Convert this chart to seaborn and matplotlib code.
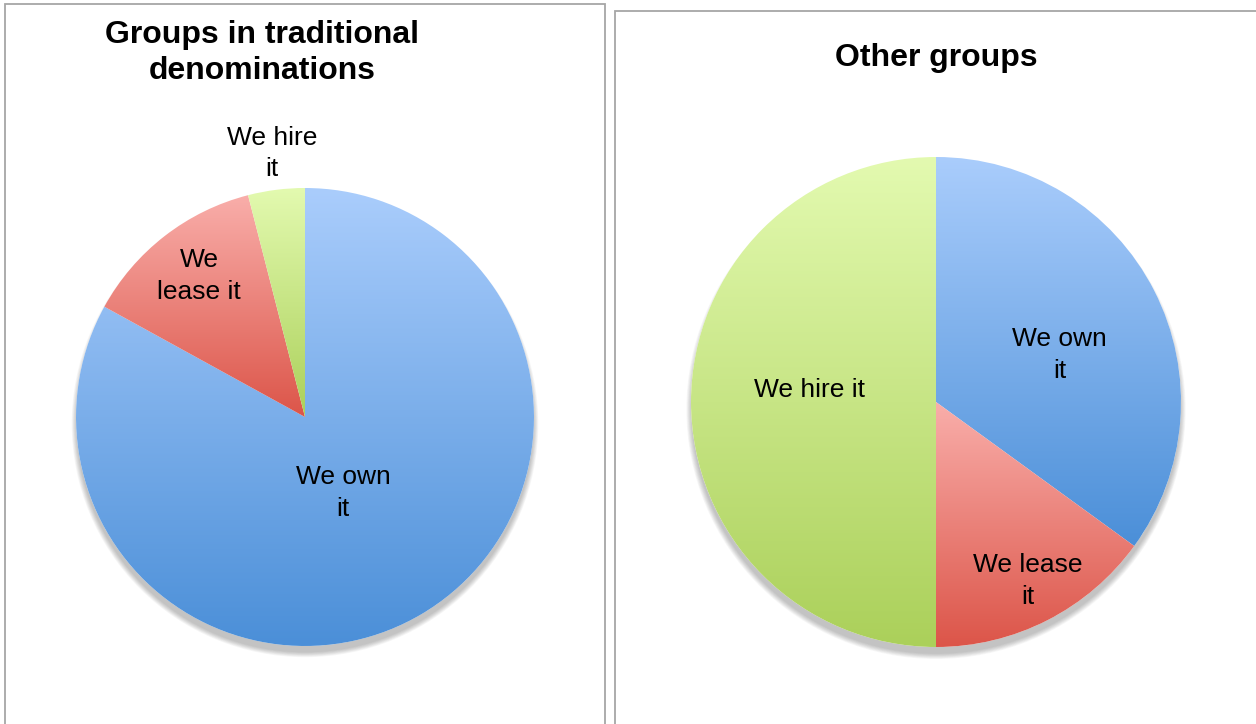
import numpy as np
import matplotlib
matplotlib.use("Agg")
import matplotlib.pyplot as plt
import seaborn as sns
from matplotlib.colors import LinearSegmentedColormap
from matplotlib.patches import Rectangle, Circle

# ---- data ----
categories = ["We own it", "We lease it", "We hire it"]
traditional_values = [83, 13, 4]
other_values = [35, 15, 50]
titles = ["Groups in traditional\ndenominations", "Other groups"]
traditional_labels = ["We own\nit", "We\nlease it", "We hire\nit"]
other_labels = ["We own\nit", "We lease\nit", "We hire it"]

# ---- style ----
sns.set_theme(style="white")
plt.rcParams["font.family"] = ["Liberation Sans", "DejaVu Sans"]

grad_colors = [("#4b8fd8", "#aacdfc"),   # blue (bottom, top)
               ("#dc5549", "#f9aeaa"),   # red
               ("#abd05a", "#e3fab0")]   # green

W, H = 1256, 724
fig = plt.figure(figsize=(W / 100, H / 100), dpi=100)
fig.patch.set_facecolor("white")

# frames
fig.patches.append(Rectangle((5 / W, -0.05), 600 / W, 1 - 4 / H + 0.05, transform=fig.transFigure,
                             fill=False, edgecolor="#a6a6a6", lw=1.3))
fig.patches.append(Rectangle((615 / W, -0.05), 660 / W, 1 - 11 / H + 0.05, transform=fig.transFigure,
                             fill=False, edgecolor="#a6a6a6", lw=1.3))

lim = 1.2
pies = [
    dict(cx=305, cy=417, r=229, values=traditional_values, labels=traditional_labels,
         label_pos=[(-63.4, 0.37), (126.9, 0.77), (97.2, 1.16)]),
    dict(cx=936, cy=402, r=245, values=other_values, labels=other_labels,
         label_pos=[(20.8, 0.54), (-62.9, 0.82), (174.6, 0.52)]),
]

for p in pies:
    half = lim * p["r"]
    ax = fig.add_axes([(p["cx"] - half) / W, (H - (p["cy"] + half)) / H, 2 * half / W, 2 * half / H])
    # soft shadow, mostly below the pie
    for k in range(8):
        ax.add_patch(Circle((0, -0.03), 0.995 + 0.003 * (8 - k), color="black",
                            alpha=0.03, lw=0, zorder=0))
    ax.add_patch(Circle((0, 0), 1.0, color="white", lw=0, zorder=0.5))
    wedges, _ = ax.pie(p["values"], startangle=90, counterclock=False, radius=1.0,
                       wedgeprops=dict(linewidth=0, edgecolor="none"))
    for w, (c0, c1) in zip(wedges, grad_colors):
        ext = w.get_path().get_extents()
        cmap = LinearSegmentedColormap.from_list("g", [c0, c1])
        grad = np.linspace(0, 1, 256).reshape(-1, 1)
        im = ax.imshow(grad, extent=[ext.x0, ext.x1, ext.y0, ext.y1], origin="lower",
                       aspect="auto", cmap=cmap, zorder=1, interpolation="bilinear")
        im.set_clip_path(w)
        w.set_facecolor("none")
    for lab, (ang, d) in zip(p["labels"], p["label_pos"]):
        a = np.deg2rad(ang)
        ax.text(d * np.cos(a), d * np.sin(a), lab, ha="center", va="center",
                fontsize=19, color="black", zorder=3, linespacing=1.4)
    ax.set_xlim(-lim, lim)
    ax.set_ylim(-lim, lim)
    ax.set_aspect("equal")
    ax.axis("off")

fig.text(262 / W, 1 - 53 / H, titles[0], ha="center", va="center", fontsize=23,
         fontweight="bold", linespacing=1.3, color="black")
fig.text(936 / W, 1 - 58 / H, titles[1], ha="center", va="center", fontsize=23,
         fontweight="bold", color="black")

fig.savefig("out.png", dpi=100, facecolor="white")
